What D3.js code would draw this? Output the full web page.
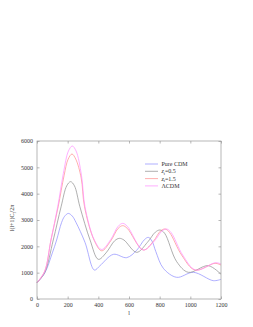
<!DOCTYPE html>
<meta charset="utf-8">
<style>
  body { margin: 0; background: #fff; }
  text { font-family: "Liberation Serif", serif; fill: #333; }
</style>
<body>
<div id="chart"></div>
<script src="https://cdn.jsdelivr.net/npm/d3@7"></script>
<script>
// multipole values (l) and l(l+1)C_l/2pi, per model
var pureCdmL = [0, 50, 100, 128, 160, 180, 204, 230, 255, 313, 374, 411, 498, 585, 650, 700, 726, 750, 775, 824, 911, 1020, 1150, 1200];
var pureCdmV = [620, 980, 1750, 2240, 2900, 3140, 3250, 3150, 2900, 2150, 1100, 1266, 1696, 1570, 1850, 2250, 2340, 2200, 1800, 1165, 823, 1013, 696, 747];

var zt05L = [0, 50, 106, 157, 194, 219, 244, 280, 346, 400, 450, 507, 537, 567, 650, 720, 772, 802, 832, 911, 987, 1117, 1200];
var zt05V = [620, 1000, 2240, 3500, 4300, 4456, 4300, 3500, 2240, 1506, 1750, 2215, 2303, 2240, 1772, 2150, 2540, 2620, 2500, 1418, 1013, 1266, 937];

var zt15L = [0, 50, 91, 138, 177, 203, 228, 253, 288, 310, 372, 422, 480, 529, 559, 589, 693, 760, 805, 835, 865, 943, 1030, 1161, 1200];
var zt15V = [620, 1050, 2240, 3500, 4700, 5310, 5506, 5310, 4600, 3500, 2240, 1830, 2200, 2680, 2785, 2680, 1860, 2200, 2580, 2658, 2520, 1670, 1100, 1355, 1290];

var lcdmL = [0, 50, 91, 135, 172, 205, 230, 255, 290, 313, 374, 422, 480, 529, 559, 589, 693, 765, 815, 845, 875, 950, 1035, 1165, 1200];
var lcdmV = [620, 1050, 2240, 3500, 4770, 5620, 5810, 5620, 4700, 3500, 2240, 1880, 2250, 2760, 2873, 2760, 1860, 2200, 2580, 2658, 2520, 1670, 1100, 1380, 1330];

var seriesNames = ["Pure CDM", "zt=0.5", "zt=1.5", "\u039BCDM"];
var xTicks = [0, 200, 400, 600, 800, 1000, 1200];
var yTicks = [0, 1000, 2000, 3000, 4000, 5000, 6000];

var series = [
  {name: seriesNames[0], l: pureCdmL, v: pureCdmV, color: "#8c8cff"},
  {name: seriesNames[1], l: zt05L, v: zt05V, color: "#8c8c8c"},
  {name: seriesNames[2], l: zt15L, v: zt15V, color: "#ff8c8c"},
  {name: seriesNames[3], l: lcdmL, v: lcdmV, color: "#ff8cff"}
];

var margin = {top: 141, right: 32, bottom: 28, left: 37},
    width = 253 - margin.left - margin.right,
    height = 327 - margin.top - margin.bottom;

var svg = d3.select("#chart").append("svg")
    .attr("width", 253)
    .attr("height", 327)
  .append("g")
    .attr("transform", "translate(" + margin.left + "," + margin.top + ")");

var x = d3.scaleLinear().domain([0, 1200]).range([0, width]);
var y = d3.scaleLinear().domain([0, 6000]).range([height, 0]);

// curves
var line = d3.line()
    .x(function(d) { return x(d[0]); })
    .y(function(d) { return y(d[1]); })
    .curve(d3.curveCatmullRom.alpha(0.5));

series.forEach(function(s) {
  svg.append("path")
      .datum(d3.zip(s.l, s.v))
      .attr("fill", "none")
      .attr("stroke", s.color)
      .attr("stroke-width", 0.7)
      .attr("d", line);
});

// frame
svg.append("rect")
    .attr("width", width)
    .attr("height", height)
    .attr("fill", "none")
    .attr("stroke", "#999")
    .attr("stroke-width", 0.7);

function styleAxis(g) {
  g.select(".domain").remove();
  g.selectAll(".tick line").attr("stroke", "#999").attr("stroke-width", 0.7);
  g.selectAll("text").style("font-family", "'Liberation Serif', serif").attr("font-size", "6px").attr("fill", "#333");
}

// bottom + left axes, ticks pointing inward
svg.append("g")
    .attr("transform", "translate(0," + height + ")")
    .call(d3.axisBottom(x).tickValues(xTicks).tickFormat(d3.format("d")).tickSize(-2.5).tickPadding(4))
    .call(styleAxis);

svg.append("g")
    .call(d3.axisLeft(y).tickValues(yTicks).tickFormat(d3.format("d")).tickSize(-2.5).tickPadding(4))
    .call(styleAxis);

// mirrored ticks on top and right
svg.append("g")
    .call(d3.axisTop(x).tickValues(xTicks).tickSize(-2.5).tickFormat(""))
    .call(styleAxis);

svg.append("g")
    .attr("transform", "translate(" + width + ",0)")
    .call(d3.axisRight(y).tickValues(yTicks).tickSize(-2.5).tickFormat(""))
    .call(styleAxis);

// axis labels
svg.append("text")
    .attr("x", width / 2)
    .attr("y", height + 16)
    .attr("text-anchor", "middle")
    .attr("font-size", "6px")
    .text("l");

var yl = svg.append("text")
    .attr("transform", "translate(-23," + (height / 2 - 2) + ") rotate(-90)")
    .attr("text-anchor", "middle")
    .attr("font-size", "6px");
yl.append("tspan").text("l(l+1)C");
yl.append("tspan").attr("font-size", "4px").attr("dy", 1.5).text("l");
yl.append("tspan").attr("dy", -1.5).text("/2\u03C0");

// legend
var legend = svg.append("g").attr("transform", "translate(108,23)");
series.forEach(function(s, i) {
  var row = legend.append("g").attr("transform", "translate(0," + (i * 7.3) + ")");
  row.append("line")
      .attr("x1", 0).attr("x2", 13)
      .attr("stroke", s.color)
      .attr("stroke-width", 0.7);
  var t = row.append("text")
      .attr("x", 16.5)
      .attr("dy", "0.33em")
      .attr("font-size", "6px");
  if (s.name.indexOf("zt=") === 0) {
    t.append("tspan").attr("font-style", "italic").text("z");
    t.append("tspan").attr("font-size", "4px").attr("dy", 1.3).text("t");
    t.append("tspan").attr("dy", -1.3).text(s.name.slice(2));
  } else {
    t.text(s.name);
  }
});
</script>
</body>
